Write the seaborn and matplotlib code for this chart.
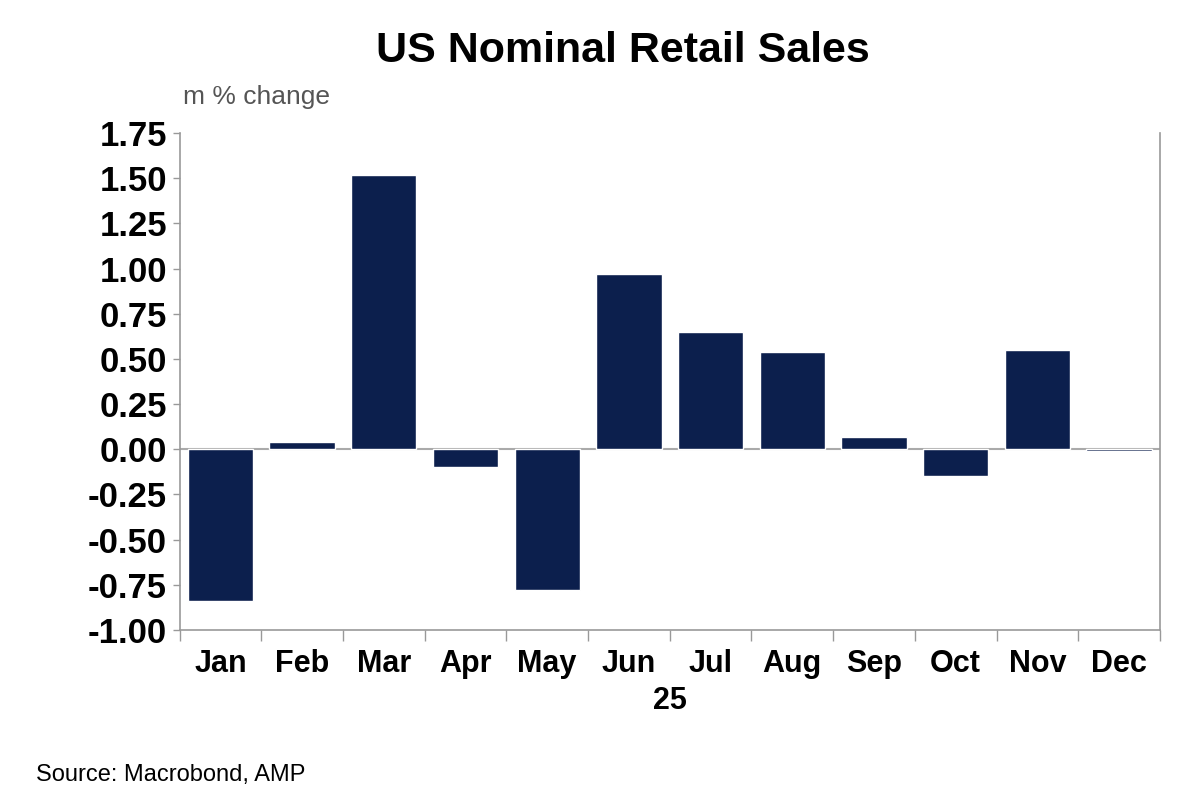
import matplotlib
matplotlib.use("Agg")
import matplotlib.pyplot as plt
import seaborn as sns
import pandas as pd
import numpy as np

months = ["Jan","Feb","Mar","Apr","May","Jun","Jul","Aug","Sep","Oct","Nov","Dec"]
values = [-0.84, 0.04, 1.52, -0.10, -0.78, 0.97, 0.65, 0.54, 0.07, -0.15, 0.55, -0.01]
yticks = [1.75,1.50,1.25,1.00,0.75,0.50,0.25,0.00,-0.25,-0.50,-0.75,-1.00]

sns.set_style("white", {"xtick.bottom": True, "ytick.left": True})
plt.rcParams['font.family'] = ['Liberation Sans', 'DejaVu Sans']
plt.rcParams['text.color'] = 'black'
df = pd.DataFrame({"month": months, "value": values})

fig = plt.figure(figsize=(11.97, 8.01), dpi=100)
ax = fig.add_axes([0.150, 0.2135, 0.819, 0.6205])
sns.barplot(data=df, x="month", y="value", color="#0c1f4d", saturation=1, width=0.8, ax=ax)
ax.set_ylim(-1.0, 1.75)
ax.set_xlim(-0.5, 11.5)
ax.set_yticks(yticks)
ax.set_yticklabels([f"{t:.2f}" for t in yticks], fontsize=25, fontweight="bold", color="black")
ax.set_xticks(range(12))
ax.set_xticklabels(months, fontsize=22, fontweight="bold", color="black")
ax.tick_params(axis="x", which="major", length=0, pad=14)
ax.tick_params(axis="y", length=5, color="#999999", width=1, direction="out", pad=4)
ax.set_xticks(np.arange(-0.5, 12, 1), minor=True)
ax.tick_params(axis="x", which="minor", length=8, width=1, color="#999999", direction="out")
ax.axhline(0, color="#aaaaaa", lw=1.5, zorder=0)
for s in ["left", "bottom", "right"]:
    ax.spines[s].set_color("#999999")
    ax.spines[s].set_linewidth(1.2)
ax.spines["top"].set_visible(False)
ax.set_xlabel("")
ax.set_ylabel("")
fig.text(0.52, 0.922, "US Nominal Retail Sales", ha="center", fontsize=31, fontweight="bold")
fig.text(0.153, 0.870, "m % change", ha="left", fontsize=19, color="#555555")
fig.text(0.56, 0.115, "25", ha="center", fontsize=22, fontweight="bold")
fig.text(0.030, 0.025, "Source: Macrobond, AMP", ha="left", fontsize=17)
fig.savefig("out.png", dpi=100)
